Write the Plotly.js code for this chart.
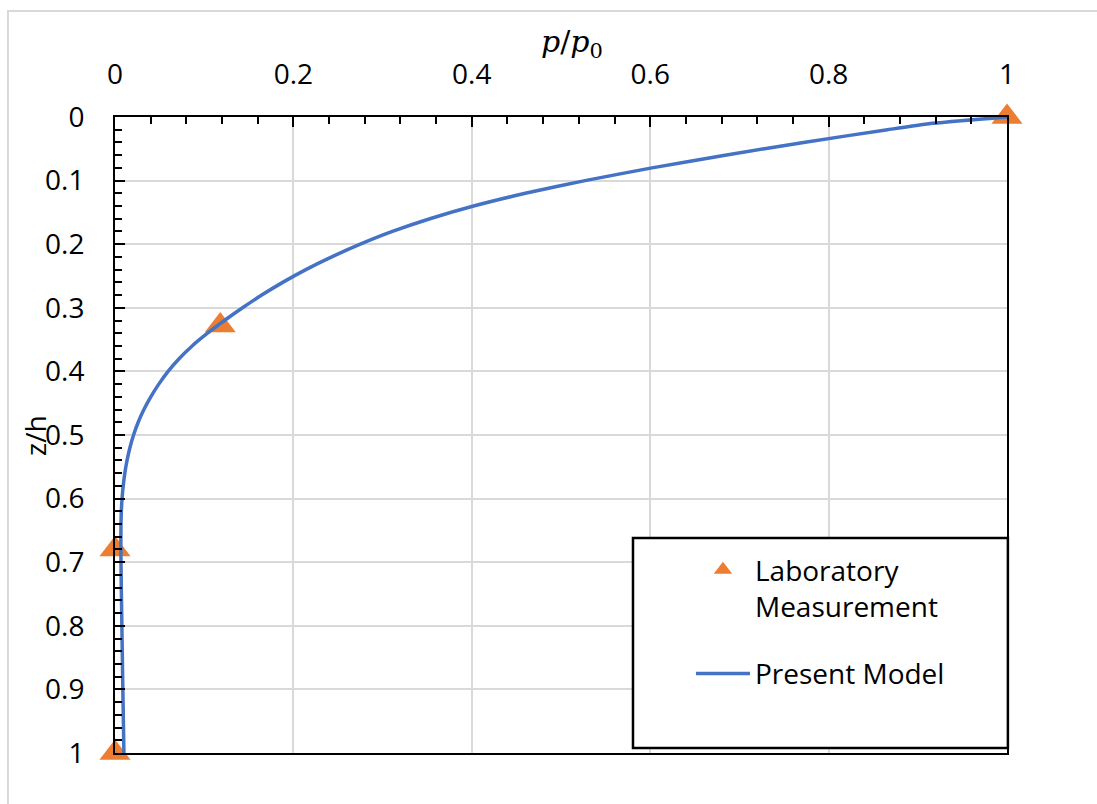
<!DOCTYPE html>
<html>
<head>
<meta charset="utf-8">
<script src="https://cdn.plot.ly/plotly-3.0.1.min.js"></script>
<style>
  html, body { margin: 0; padding: 0; background: #ffffff; }
  #chart { width: 1097px; height: 804px; }
</style>
</head>
<body>
<div id="chart"></div>
<script>
// ---- Data ----
// Laboratory measurements (p/p0 vs z/h)
const labP = [1.0, 0.118, 0.0, 0.0];
const labZ = [0.0, 0.328, 0.68, 1.0];

// Present model curve
const modelZ = [0, 0.01, 0.02, 0.04, 0.06, 0.08, 0.10, 0.12, 0.14, 0.16, 0.18, 0.20,
  0.22, 0.24, 0.26, 0.28, 0.30, 0.32, 0.34, 0.36, 0.38, 0.40, 0.42, 0.44, 0.46, 0.48,
  0.50, 0.52, 0.54, 0.56, 0.58, 0.60, 0.62, 0.64, 0.66, 0.68, 0.70, 0.80, 0.90, 1.0];
const modelP = [1.0, 0.917, 0.866, 0.772, 0.684, 0.602, 0.527, 0.460, 0.402, 0.353, 0.311, 0.275,
  0.243, 0.214, 0.188, 0.1645, 0.143, 0.1227, 0.1037, 0.0865, 0.0718, 0.0595, 0.0491, 0.0401, 0.0324, 0.0260,
  0.0208, 0.0167, 0.0135, 0.0110, 0.0092, 0.0079, 0.0071, 0.0067, 0.0066, 0.0066, 0.0067, 0.0077, 0.0088, 0.0100];

const seriesNames = ["Laboratory<br>Measurement", "Present Model"];
const xTitle = "<i>p</i>/<i>p</i><sub>0</sub>";
const yTitle = "z/h";

// ---- Plot ----
const FONT = "Open Sans, sans-serif";
const traces = [
  {
    x: labP, y: labZ, type: "scatter", mode: "markers",
    name: seriesNames[0], legendgroup: "a",
    marker: { symbol: "triangle-up", size: 27, color: "#ED7D31" },
    cliponaxis: false
  },
  {
    x: modelP, y: modelZ, type: "scatter", mode: "lines",
    name: seriesNames[1], legendgroup: "b",
    line: { color: "#4472C4", width: 3.5, shape: "spline", smoothing: 0.6 },
    cliponaxis: false
  }
];

const layout = {
  width: 1097, height: 804,
  margin: { l: 115, r: 90, t: 117, b: 51 },
  paper_bgcolor: "#ffffff", plot_bgcolor: "#ffffff",
  font: { family: FONT, size: 28, color: "#000000" },
  showlegend: true,
  legend: {
    x: 0.6457, xanchor: "left", xref: "paper",
    y: 0.327, yanchor: "top", yref: "paper",
    bgcolor: "rgba(0,0,0,0)", borderwidth: 0,
    itemwidth: 54, tracegroupgap: 28, traceorder: "grouped", valign: "top",
    font: { family: FONT, size: 28, color: "#000000" }
  },
  xaxis: {
    side: "top", range: [0, 1], dtick: 0.2, tick0: 0,
    showgrid: true, gridcolor: "#d9d9d9", gridwidth: 2,
    zeroline: false,
    showline: true, linecolor: "#000000", linewidth: 2, mirror: true,
    ticks: "inside", ticklen: 10, tickwidth: 2, tickcolor: "#000000",
    ticklabelstandoff: 20,
    minor: { dtick: 0.04, ticks: "inside", ticklen: 7, tickwidth: 2, tickcolor: "#000000", showgrid: false },
    tickfont: { family: FONT, size: 28, color: "#000000" }
  },
  yaxis: {
    range: [1, 0], dtick: 0.1, tick0: 0,
    showgrid: true, gridcolor: "#d9d9d9", gridwidth: 2,
    zeroline: false,
    showline: true, linecolor: "#000000", linewidth: 2, mirror: true,
    ticks: "inside", ticklen: 10, tickwidth: 2, tickcolor: "#000000",
    ticklabelstandoff: 23,
    minor: { dtick: 0.02, ticks: "inside", ticklen: 7, tickwidth: 2, tickcolor: "#000000", showgrid: false },
    tickfont: { family: FONT, size: 28, color: "#000000" }
  },
  shapes: [
    // outer chart frame
    { type: "rect", xref: "paper", yref: "paper", x0: -0.12, x1: 1.3, y0: -0.3, y1: 1.1667,
      line: { color: "#d9d9d9", width: 2 }, fillcolor: "rgba(0,0,0,0)", layer: "below" },
    // legend box
    { type: "rect", xref: "paper", yref: "paper", x0: 0.5807, x1: 1.001, y0: 0.0079, y1: 0.338,
      line: { color: "#000000", width: 2.5 }, fillcolor: "#ffffff", layer: "above" }
  ],
  annotations: [
    { text: xTitle, xref: "paper", yref: "paper", x: 0.512, y: 1.116, showarrow: false,
      xanchor: "center", yanchor: "middle",
      font: { family: "DejaVu Serif, serif", size: 30, color: "#000000" } },
    { text: yTitle, xref: "paper", yref: "paper", x: -0.0897, y: 0.5, showarrow: false,
      textangle: -90, xanchor: "center", yanchor: "middle",
      font: { family: FONT, size: 28, color: "#000000" } }
  ]
};

Plotly.newPlot("chart", traces, layout, { displayModeBar: false, staticPlot: true });
</script>
</body>
</html>
